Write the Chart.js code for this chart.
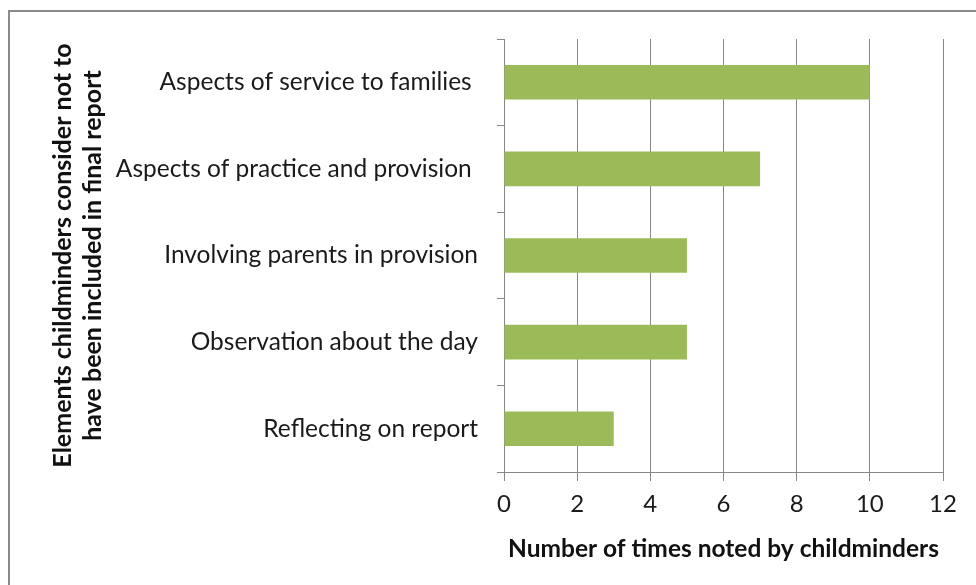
<!DOCTYPE html>
<html>
<head>
<meta charset="utf-8">
<script src="https://cdn.jsdelivr.net/npm/chart.js@4/dist/chart.umd.min.js"></script>
<style>
  html, body { margin: 0; padding: 0; background: #fff; overflow: hidden; }
  #frame { position: absolute; left: 8px; top: 10px; width: 1000px; height: 600px;
           border: 2px solid #8a8a8a; box-sizing: border-box; }
  #wrap { position: absolute; left: 0; top: 0; width: 976px; height: 585px; }
</style>
</head>
<body>
<div id="frame"></div>
<div id="wrap"><canvas id="c" width="976" height="585"></canvas></div>
<script>
// Categories, counts and axis ticks
const categories = [
  "Aspects of service to families ",
  "Aspects of practice and provision ",
  "Involving parents in provision",
  "Observation about the day",
  "Reflecting on report"
];
const counts = [10, 7, 5, 5, 3];
const xTicks = [0, 2, 4, 6, 8, 10, 12];
const xTitle = "Number of times noted by childminders";
const yTitle = ["Elements childminders consider not to", "have been included in final report"];

const gridColor = "#878787";
const font = "Lato, 'Open Sans', sans-serif";

new Chart(document.getElementById("c"), {
  type: "bar",
  data: {
    labels: categories,
    datasets: [{
      data: counts,
      backgroundColor: "#9BBB59",
      borderWidth: 0,
      barPercentage: 0.4,
      categoryPercentage: 1.0
    }]
  },
  options: {
    indexAxis: "y",
    responsive: false,
    animation: false,
    layout: { padding: { left: 0, right: 33, top: 39, bottom: 0 } },
    plugins: { legend: { display: false }, tooltip: { enabled: false } },
    scales: {
      x: {
        min: xTicks[0],
        max: xTicks[xTicks.length - 1],
        afterBuildTicks: s => { s.ticks = xTicks.map(v => ({ value: v })); },
        grid: { color: gridColor, lineWidth: 1, tickLength: 9, drawTicks: true },
        border: { color: gridColor, width: 1 },
        ticks: { color: "#1a1a1a", font: { family: font, size: 24 }, padding: 9 },
        title: {
          display: true, text: xTitle, color: "#111",
          font: { family: font, size: 24.5, weight: "bold" },
          padding: { top: 0, bottom: 21 }
        },
        afterFit: s => { s.height = 113; }
      },
      y: {
        grid: { offset: true, drawOnChartArea: false, color: gridColor, tickLength: 7 },
        border: { color: gridColor, width: 1 },
        ticks: { color: "#1a1a1a", font: { family: font, size: 24.5 }, padding: 19 },
        title: {
          display: true, text: yTitle, color: "#111",
          font: { family: font, size: 25, weight: "bold" },
          padding: { top: 48, bottom: 0 }
        },
        afterFit: s => { s.width = 504; }
      }
    }
  }
});
</script>
</body>
</html>
